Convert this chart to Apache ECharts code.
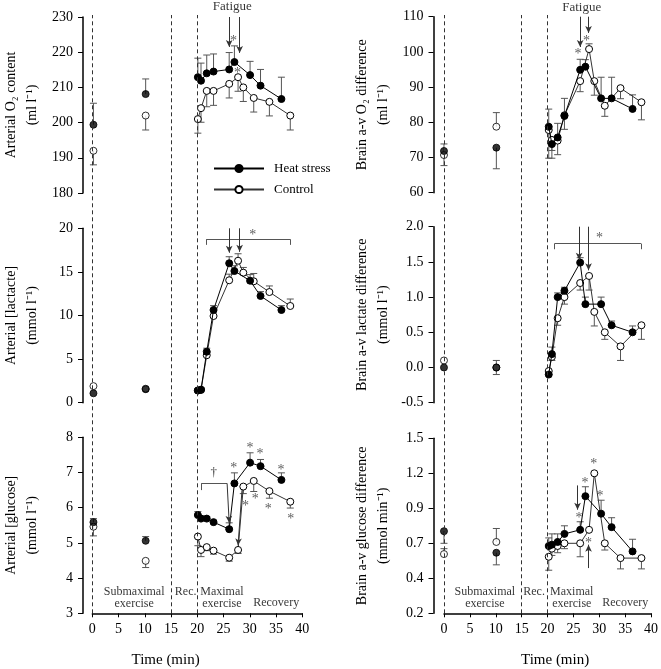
<!DOCTYPE html>
<html><head><meta charset="utf-8">
<script src="https://cdn.jsdelivr.net/npm/echarts@6/dist/echarts.min.js"></script>
<style>html,body{margin:0;padding:0;background:#fff}#c{width:661px;height:669px}</style>
</head><body><div id="c"></div>
<script>
// ---------- time points (min) ----------
const tBase = [0, 10];
const tHeat = [20, 20.6, 21.7, 23, 26, 27, 30, 32, 36];
const tCtrl = [20, 20.6, 21.7, 23, 26, 27.7, 28.7, 30.7, 33.7, 37.7];
const xTicks = [0, 5, 10, 15, 20, 25, 30, 35, 40];
const phaseLines = [0, 15, 20];

// ---------- Arterial O2 content (ml/l) ----------
const artO2HeatBase = [199.4, 208.1], artO2HeatBaseErr = [6.1, 4.3];
const artO2CtrlBase = [192.0, 202.0], artO2CtrlBaseErr = [-4, -4.1];
const artO2Heat = [212.9, 211.9, 214.0, 214.5, 215.1, 217.2, 213.5, 210.5, 206.7];
const artO2HeatErr = [5.4, 5.0, 5.2, 5.0, 4.8, 4.6, 3.9, 4.6, 6.2];
const artO2Ctrl = [201.0, 204.1, 209.0, 209.0, 211.0, 212.9, 210.0, 207.0, 205.9, 202.0];
const artO2CtrlErr = [-4, -4, -4.5, -4.1, -4, -4, -4, -4, -4, -4.1];

// ---------- Arterial lactate (mmol/l) ----------
const artLacHeatBase = [1.08, 1.55], artLacHeatBaseErr = [0, 0];
const artLacCtrlBase = [1.9, 1.6], artLacCtrlBaseErr = [0, 0];
const artLacHeat = [1.4, 1.5, 5.85, 10.63, 15.99, 15.1, 13.99, 12.24, 10.63];
const artLacHeatErr = [0.2, 0.2, 0.4, 0.5, 0.75, 0.6, 0.7, 0.5, 0.5];
const artLacCtrl = [1.4, 1.46, 5.44, 9.94, 14.04, 16.28, 14.91, 13.92, 12.69, 11.09];
const artLacCtrlErr = [0.1, 0.1, 0.3, 0.5, 0.7, 0.8, 0.6, 0.9, 0.7, 0.8];

// ---------- Arterial glucose (mmol/l) ----------
const artGluHeatBase = [5.59, 5.06], artGluHeatBaseErr = [0.1, 0.12];
const artGluCtrlBase = [5.46, 4.49], artGluCtrlBaseErr = [-0.26, -0.19];
const artGluHeat = [5.79, 5.69, 5.69, 5.59, 5.39, 6.69, 7.28, 7.18, 6.79];
const artGluHeatErr = [0.1, 0.08, 0.06, 0.05, 0.18, 0.3, 0.28, 0.19, 0.2];
const artGluCtrl = [5.18, 4.80, 4.88, 4.78, 4.58, 4.80, 6.60, 6.76, 6.47, 6.17];
const artGluCtrlErr = [-0.26, -0.19, -0.1, -0.1, -0.1, -0.1, -0.2, -0.3, -0.2, -0.18];

// ---------- Brain a-v O2 difference (ml/l) ----------
const avO2HeatBase = [71.85, 72.8], avO2HeatBaseErr = [2, -6];
const avO2CtrlBase = [70.7, 78.75], avO2CtrlBaseErr = [-3, 4];
const avO2Heat = [78.75, 73.8, 75.7, 81.8, 94.9, 95.8, 86.8, 86.8, 83.8];
const avO2HeatErr = [5, -4, 4, 5, 3, 2, 6, 6, 4];
const avO2Ctrl = [77.8, 75.0, 74.8, 82.0, 91.7, 100.8, 91.7, 84.7, 89.7, 85.7];
const avO2CtrlErr = [-8, -3, -4, -4, -3, 1.5, -4, -3, -3, -5];

// ---------- Brain a-v lactate difference (mmol/l) ----------
const avLacHeatBase = [0.0, 0.0], avLacHeatBaseErr = [0, -0.1];
const avLacCtrlBase = [0.1, 0.0], avLacCtrlBaseErr = [0, 0.1];
const avLacHeat = [-0.1, 0.19, 1.0, 1.09, 1.49, 0.9, 0.9, 0.6, 0.5];
const avLacHeatErr = [0, 0.1, 0.06, 0.05, 0.07, 0.1, 0.1, 0.06, 0.09];
const avLacCtrl = [-0.05, 0.15, 0.7, 1.0, 1.2, 1.3, 0.79, 0.5, 0.3, 0.6];
const avLacCtrlErr = [-0.05, -0.05, -0.1, -0.1, -0.1, -0.2, -0.2, -0.1, -0.2, -0.2];

// ---------- Brain a-v glucose difference (mmol/min) ----------
const avGluHeatBase = [0.81, 0.65], avGluHeatBaseErr = [-0.09, -0.09];
const avGluCtrlBase = [0.64, 0.73], avGluCtrlBaseErr = [0.04, 0.1];
const avGluHeat = [0.70, 0.71, 0.73, 0.79, 0.82, 1.07, 0.94, 0.84, 0.66];
const avGluHeatErr = [0.06, 0.08, 0.06, 0.06, 0.06, 0.07, 0.1, 0.07, 0.09];
const avGluCtrl = [0.62, 0.68, 0.70, 0.72, 0.72, 0.82, 1.24, 0.72, 0.61, 0.61];
const avGluCtrlErr = [-0.1, -0.05, -0.05, -0.04, -0.1, 0, 0, -0.05, -0.08, -0.08];
const avGluTicks = [0.2, 0.46, 0.72, 0.98, 1.24, 1.5];
const avGluTickLabels = ['0.2', '0.4', '0.7', '0.9', '1.2', '1.5'];

// ---------- annotations (data coordinates) ----------
const artO2Arrows = [[26, 230, 26, 221.5], [28, 230, 28, 219.8]];
const artO2Stars = [[26.8, 223.8], [27.6, 214.9]];
const artO2Fatigue = [26.6, 233.1];
const artLacBracket = [[21.6, 18.1, 21.6, 18.74], [21.6, 18.74, 37.7, 18.74], [37.7, 18.74, 37.7, 18.1]];
const artLacArrows = [[26, 20, 26, 17.2], [28, 20, 28, 17.3]];
const artLacStars = [[30.5, 19.5]];
const artGluBracket = [[20.65, 6.5, 20.65, 6.69], [20.65, 6.69, 25.6, 6.69]];
const artGluArrows = [[25.6, 6.69, 26.0, 5.57], [28.45, 6.5, 27.7, 4.93]];
const artGluDagger = [[23.05, 7.0]];
const artGluStars = [[26.86, 7.21], [30.0, 7.78], [31.9, 7.61], [35.9, 7.16], [29.1, 6.13], [31.0, 6.31], [33.5, 6.05], [37.8, 5.76]];
const avO2Arrows = [[26, 110, 26, 101.4], [27.6, 110, 27.6, 105.4]];
const avO2Stars = [[25.6, 100.1], [27.2, 103.9]];
const avO2Fatigue = [26.3, 112.5];
const avLacBracket = [[21.1, 1.68, 21.1, 1.76], [21.1, 1.76, 37.6, 1.76], [37.6, 1.76, 37.6, 1.68]];
const avLacArrows = [[25.8, 2.0, 25.8, 1.53], [27.6, 2.0, 27.6, 1.38]];
const avLacStars = [[29.7, 1.88]];
const avGluArrows = [[25.5, 1.15, 25.5, 0.97], [27.6, 0.536, 27.6, 0.71]];
const avGluStars = [[25.8, 0.93], [26.9, 1.19], [28.6, 1.33], [29.8, 1.09], [27.6, 0.74]];
const phaseTexts = ['Submaximal\nexercise', 'Rec.', 'Maximal\nexercise', 'Recovery'];
const artPhasePos = [[7.8, 3.45], [17.66, 3.61], [24.6, 3.45], [35.0, 3.30]];
const avPhasePos = [[7.8, 0.317], [17.2, 0.36], [24.4, 0.317], [34.6, 0.274]];

// ---------- building the option ----------
const FONT = 'Liberation Serif';
const zip = (xs, ys, es) => xs.map((x, i) => es ? [x, ys[i], es[i]] : [x, ys[i]]);

const panels = [
  {name: 'Arterial O\u2082 content\n(ml l\u207B\u00B9)', min: 180, max: 230, interval: 10,
   hB: artO2HeatBase, hBE: artO2HeatBaseErr, cB: artO2CtrlBase, cBE: artO2CtrlBaseErr,
   h: artO2Heat, hE: artO2HeatErr, c: artO2Ctrl, cE: artO2CtrlErr,
   lines: [], arrows: artO2Arrows, stars: artO2Stars, texts: [{p: artO2Fatigue, t: 'Fatigue'}]},
  {name: 'Arterial [lactacte]\n(mmol l\u207B\u00B9)', min: 0, max: 20, interval: 5,
   hB: artLacHeatBase, hBE: artLacHeatBaseErr, cB: artLacCtrlBase, cBE: artLacCtrlBaseErr,
   h: artLacHeat, hE: artLacHeatErr, c: artLacCtrl, cE: artLacCtrlErr,
   lines: artLacBracket, arrows: artLacArrows, stars: artLacStars, texts: []},
  {name: 'Arterial [glucose]\n(mmol l\u207B\u00B9)', min: 3, max: 8, interval: 1,
   hB: artGluHeatBase, hBE: artGluHeatBaseErr, cB: artGluCtrlBase, cBE: artGluCtrlBaseErr,
   h: artGluHeat, hE: artGluHeatErr, c: artGluCtrl, cE: artGluCtrlErr,
   lines: artGluBracket, arrows: artGluArrows, stars: artGluStars,
   texts: [{p: artGluDagger[0], t: '\u2020'}].concat(phaseTexts.map((t, i) => ({p: artPhasePos[i], t: t, small: true})))},
  {name: 'Brain a-v O\u2082 difference\n(ml l\u207B\u00B9)', min: 60, max: 110, interval: 10,
   hB: avO2HeatBase, hBE: avO2HeatBaseErr, cB: avO2CtrlBase, cBE: avO2CtrlBaseErr,
   h: avO2Heat, hE: avO2HeatErr, c: avO2Ctrl, cE: avO2CtrlErr,
   lines: [], arrows: avO2Arrows, stars: avO2Stars, texts: [{p: avO2Fatigue, t: 'Fatigue'}]},
  {name: 'Brain a-v lactate difference\n(mmol l\u207B\u00B9)', min: -0.5, max: 2.0, interval: 0.5, dec: 1,
   hB: avLacHeatBase, hBE: avLacHeatBaseErr, cB: avLacCtrlBase, cBE: avLacCtrlBaseErr,
   h: avLacHeat, hE: avLacHeatErr, c: avLacCtrl, cE: avLacCtrlErr,
   lines: avLacBracket, arrows: avLacArrows, stars: avLacStars, texts: []},
  {name: 'Brain a-v glucose difference\n(mmol min\u207B\u00B9)', min: 0.2, max: 1.5, custom: true,
   hB: avGluHeatBase, hBE: avGluHeatBaseErr, cB: avGluCtrlBase, cBE: avGluCtrlBaseErr,
   h: avGluHeat, hE: avGluHeatErr, c: avGluCtrl, cE: avGluCtrlErr,
   lines: [], arrows: avGluArrows, stars: avGluStars,
   texts: phaseTexts.map((t, i) => ({p: avPhasePos[i], t: t, small: true}))}
];

const grids = [
  {left: 81.8, top: 17, width: 220.5, height: 176},
  {left: 81.8, top: 228.3, width: 220.5, height: 174.4},
  {left: 81.8, top: 437.3, width: 220.5, height: 176},
  {left: 433.5, top: 16.7, width: 220, height: 176},
  {left: 433.5, top: 226.7, width: 220, height: 176},
  {left: 433.5, top: 438.3, width: 220, height: 175},
  // full-height overlays carrying the time axis (0-40) and the phase lines
  {left: 92.3, top: 15, width: 210, height: 598.3},
  {left: 444, top: 15, width: 209.5, height: 598.3}
];

const xAxes = grids.map((g, i) => {
  const overlay = i >= 6;
  return {
    gridIndex: i, type: 'value', min: overlay ? 0 : -2, max: 40, interval: overlay ? 5 : undefined,
    show: overlay,
    axisLine: {show: true, onZero: false, lineStyle: {color: '#000', width: 1.5}},
    axisTick: {show: true, length: 4, lineStyle: {color: '#000'}},
    axisLabel: {fontSize: 14, color: '#000', margin: 9, fontFamily: FONT},
    splitLine: {show: false}
  };
});

const yAxes = panels.map((p, i) => {
  const ax = {
    gridIndex: i, type: 'value', min: p.min, max: p.max,
    name: p.name, nameLocation: 'middle', nameGap: 40, nameRotate: 90,
    nameTextStyle: {fontFamily: FONT, fontSize: 14, color: '#000', lineHeight: 21},
    axisLine: {show: true, onZero: false, lineStyle: {color: '#000', width: 1.5}},
    axisTick: {show: true, length: 5, lineStyle: {color: '#000'}},
    axisLabel: {fontSize: 14, color: '#000', margin: 10, fontFamily: FONT},
    splitLine: {show: false}
  };
  if (p.custom) {
    ax.axisTick.customValues = avGluTicks;
    ax.axisLabel.customValues = avGluTicks;
    ax.axisLabel.formatter = v => {
      let best = 0;
      avGluTicks.forEach((t, k) => { if (Math.abs(t - v) < Math.abs(avGluTicks[best] - v)) best = k; });
      return avGluTickLabels[best];
    };
  } else {
    ax.interval = p.interval;
    if (p.dec) ax.axisLabel.formatter = v => v.toFixed(p.dec);
  }
  return ax;
});
yAxes.push({gridIndex: 6, type: 'value', min: 0, max: 1, show: false});
yAxes.push({gridIndex: 7, type: 'value', min: 0, max: 1, show: false});

function renderErr(params, api) {
  const t = api.value(0), v = api.value(1), e = api.value(2);
  if (!e) return null;
  const p0 = api.coord([t, v]), p1 = api.coord([t, v + e]);
  const st = {stroke: '#555', lineWidth: 1};
  return {type: 'group', children: [
    {type: 'line', shape: {x1: p0[0], y1: p0[1], x2: p1[0], y2: p1[1]}, style: st},
    {type: 'line', shape: {x1: p1[0] - 3.5, y1: p1[1], x2: p1[0] + 3.5, y2: p1[1]}, style: st}
  ]};
}

const heatStyle = {color: '#000', borderColor: '#000', borderWidth: 1};
const ctrlStyle = {color: '#fff', borderColor: '#000', borderWidth: 1};
const series = [];
panels.forEach((p, i) => {
  const ax = {xAxisIndex: i, yAxisIndex: i};
  series.push(Object.assign({type: 'custom', renderItem: renderErr, z: 2, silent: true,
    encode: {x: 0, y: 1}, data: zip(tCtrl, p.c, p.cE).concat(zip(tBase, p.cB, p.cBE))}, ax));
  series.push(Object.assign({type: 'custom', renderItem: renderErr, z: 2, silent: true,
    encode: {x: 0, y: 1}, data: zip(tHeat, p.h, p.hE).concat(zip(tBase, p.hB, p.hBE))}, ax));
  series.push(Object.assign({type: 'line', name: 'Control', data: zip(tCtrl, p.c), z: 3,
    symbol: 'circle', symbolSize: 7, showSymbol: true, lineStyle: {color: '#333', width: 1},
    itemStyle: ctrlStyle, emphasis: {disabled: true}, silent: true}, ax));
  series.push(Object.assign({type: 'line', name: 'Heat stress', data: zip(tHeat, p.h), z: 4,
    symbol: 'circle', symbolSize: 7, showSymbol: true, lineStyle: {color: '#000', width: 1},
    itemStyle: heatStyle, emphasis: {disabled: true}, silent: true}, ax));
  series.push(Object.assign({type: 'scatter', name: 'Control', data: zip(tBase, p.cB), z: 3,
    symbol: 'circle', symbolSize: 7, itemStyle: ctrlStyle, emphasis: {disabled: true}, silent: true}, ax));
  series.push(Object.assign({type: 'scatter', name: 'Heat stress', data: zip(tBase, p.hB), z: 4,
    symbol: 'circle', symbolSize: 7, itemStyle: heatStyle, emphasis: {disabled: true}, silent: true}, ax));
  // brackets / plain lines
  series.push(Object.assign({type: 'line', data: [], silent: true, markLine: {
    silent: true, symbol: ['none', 'none'], label: {show: false}, animation: false,
    lineStyle: {color: '#555', width: 1, type: 'solid'},
    data: p.lines.map(s => [{coord: [s[0], s[1]]}, {coord: [s[2], s[3]]}])}}, ax));
  // arrows
  series.push(Object.assign({type: 'line', data: [], silent: true, markLine: {
    silent: true, symbol: ['none', 'arrow'], symbolSize: [5, 7], label: {show: false}, animation: false,
    lineStyle: {color: '#333', width: 1, type: 'solid'},
    data: p.arrows.map(s => [{coord: [s[0], s[1]]}, {coord: [s[2], s[3]]}])}}, ax));
  // asterisks
  series.push(Object.assign({type: 'scatter', clip: false, silent: true, symbolSize: 1,
    itemStyle: {color: 'rgba(0,0,0,0)'}, z: 6,
    label: {show: true, position: 'inside', formatter: '*', color: '#333', fontFamily: FONT, fontSize: 14, offset: [0, 3]},
    data: p.stars.map(s => ({value: s}))}, ax));
  // texts
  series.push(Object.assign({type: 'scatter', clip: false, silent: true, symbolSize: 1,
    itemStyle: {color: 'rgba(0,0,0,0)'}, z: 6,
    label: {show: true, position: 'inside', formatter: '{b}', color: '#000', fontFamily: FONT, fontSize: 13, lineHeight: 12},
    data: p.texts.map(s => ({value: s.p, name: s.t, label: s.small ? {fontSize: 12} : {}}))}, ax));
});
// vertical dashed phase lines
[6, 7].forEach(gi => {
  series.push({type: 'line', xAxisIndex: gi, yAxisIndex: gi, data: [], silent: true, markLine: {
    silent: true, symbol: ['none', 'none'], label: {show: false}, animation: false,
    lineStyle: {color: '#333', width: 1, type: [4, 3]},
    data: phaseLines.map(x => ({xAxis: x}))}});
});

const option = {
  animation: false,
  textStyle: {fontFamily: FONT},
  grid: grids,
  xAxis: xAxes,
  yAxis: yAxes,
  legend: {data: ['Heat stress', 'Control'], orient: 'vertical', left: 208, top: 157,
    itemWidth: 50, itemHeight: 9, itemGap: 8, selectedMode: false,
    textStyle: {fontFamily: FONT, fontSize: 13, color: '#000', padding: [0, 0, 0, 5]}},
  graphic: [
    {type: 'text', left: 160.5 - 29, top: 653, style: {text: 'Time (min)', font: '15px "Liberation Serif"', fill: '#000'}},
    {type: 'text', left: 550 - 29, top: 653, style: {text: 'Time (min)', font: '15px "Liberation Serif"', fill: '#000'}}
  ],
  series: series
};
const chart = echarts.init(document.getElementById('c'), null, {renderer: 'canvas'});
chart.setOption(option);
</script></body></html>
